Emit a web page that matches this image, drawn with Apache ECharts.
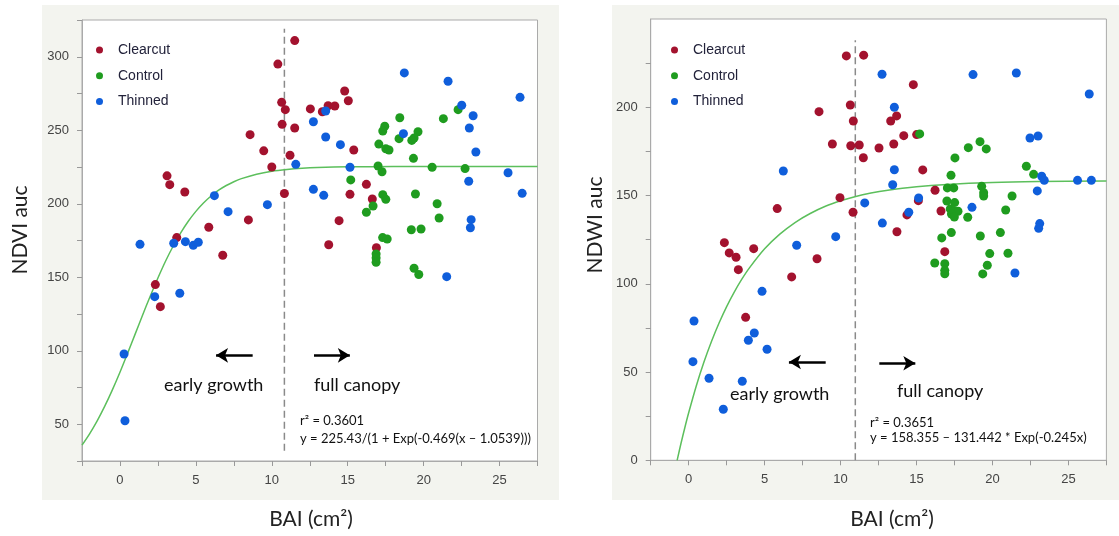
<!DOCTYPE html>
<html>
<head>
<meta charset="utf-8">
<script src="https://cdn.jsdelivr.net/npm/echarts@6/dist/echarts.min.js"></script>
<style>
html,body{margin:0;padding:0;background:#fff;}
#c{width:1119px;height:536px;}
</style>
</head>
<body>
<div id="c"></div>
<script>
// ---------- Data ----------
const seriesNames = ['Clearcut', 'Control', 'Thinned'];

const ndviClearcut = [
  [10.4,295],[10.65,269],[10.89,264],[10.68,254],[8.57,247],[9.47,236],[10.0,225],[11.2,233],
  [10.83,207],[3.10,219],[3.28,213],[4.27,208],[8.46,189],[5.85,184],[3.74,177],[6.77,165],
  [2.33,145],[2.66,130],[11.51,311],[12.54,264.5],[13.33,262.6],[13.71,266.7],[14.15,266.5],
  [14.8,276.7],[15.04,270.1],[11.51,251.5],[15.4,236.6],[16.23,213.2],[15.15,206.4],
  [16.62,203.2],[14.43,188.5],[13.75,172.1],[16.89,170.1]
];
const ndviControl = [
  [18.43,258.5],[21.3,257.9],[22.27,264],[17.44,252.7],[17.31,249.5],[19.63,249],[19.37,244.7],
  [19.22,243.1],[18.38,244.3],[17.05,240.6],[17.51,237.4],[17.72,236.6],[19.33,230.9],[17.0,225.7],
  [17.26,221.8],[20.56,224.8],[22.73,223.9],[15.2,216.2],[17.31,206.2],[17.51,203],[19.46,206.6],
  [20.89,200],[16.67,198.5],[16.23,194.2],[21.02,190.3],[19.19,182.3],[19.83,182.8],[17.3,177],
  [17.6,176],[16.87,165.8],[16.87,163.1],[16.87,160.2],[19.37,156.1],[19.68,151.9]
];
const ndviThinned = [
  [1.32,172.4],[3.54,173.1],[4.31,174.2],[4.83,171.7],[5.16,173.8],[2.29,136.8],[3.94,139.1],
  [0.27,97.8],[0.33,52.4],[6.22,205.5],[7.12,194.6],[9.71,199.4],[18.73,289],[21.61,283.3],
  [22.51,267],[23.26,259.9],[23.01,251.5],[23.44,235.2],[12.74,255.8],[13.55,245.4],[14.52,240.2],
  [18.67,247.7],[11.58,226.8],[15.15,224.8],[22.97,215.3],[12.74,209.8],[13.42,205.7],[23.13,189.2],
  [23.08,183.7],[25.56,221.1],[26.35,272.4],[26.49,207.1],[13.55,263.1],[21.52,150.4]
];
// fitted curve, as drawn (y = 225.43/(1 + Exp(-0.469(x - 1.0539))))
const ndviFit = [
  [-2.5,35.8],[-2,43.5],[-1.5,52.3],[-1,62.3],[-0.5,73.4],[0,85.4],[0.5,98.2],[1,111.3],
  [1.5,124.5],[2,137.3],[2.5,149.5],[3,160.9],[3.5,171.1],[4,180.2],[4.5,188.1],[5,194.8],
  [5.5,200.5],[6,205.3],[6.5,209.2],[7,212.4],[7.5,215.0],[8,217.1],[9,220.1],[10,222.1],
  [11,223.3],[12,224.1],[13,224.6],[15,225.1],[18,225.3],[22,225.4],[27.5,225.4]
];
const ndviDivider = [[10.83,32],[10.83,319]];

const ndwiClearcut = [
  [10.38,229.1],[10.64,201.3],[10.84,192.2],[8.58,197.5],[9.46,179.2],[10.67,178.2],[9.96,148.8],
  [10.82,140.5],[5.83,142.6],[11.52,229.5],[14.79,212.8],[13.69,195.1],[13.30,192.2],[11.23,178.6],
  [12.53,176.9],[13.5,179.2],[14.16,183.9],[15.01,184.5],[11.5,171.4],[15.41,164.5],[16.22,153],
  [15.12,147.1],[16.61,141.2],[14.37,139],[13.71,129.5],[16.86,118.2],[2.35,123.3],[2.67,117.5],
  [3.12,115],[3.27,108],[4.28,119.9],[8.45,114.2],[6.78,103.9],[3.75,81]
];
const ndwiControl = [
  [15.21,184.9],[19.18,180.5],[18.41,177.1],[19.59,176.4],[17.53,171.3],[22.23,166.6],[22.71,162.0],
  [17.27,161.5],[17.03,154.3],[17.45,154.3],[19.29,155.2],[19.42,151.6],[19.42,149.7],[21.29,149.7],
  [17.0,146.9],[17.51,146.0],[17.22,142.4],[17.45,141.2],[17.73,141.1],[17.3,139.5],[17.49,137.8],
  [20.87,141.8],[18.37,137.7],[17.29,129.0],[20.52,129.0],[16.66,126.0],[19.2,127.1],[19.82,117.1],
  [21.02,117.3],[16.2,111.8],[16.86,111.4],[16.86,107.6],[16.86,105.7],[19.66,110.5],[19.36,105.6]
];
const ndwiThinned = [
  [6.23,163.9],[9.68,126.7],[12.73,218.7],[18.72,218.5],[21.57,219.4],[13.54,200],[22.47,182.6],
  [23.0,183.7],[13.54,164.6],[13.43,156.1],[23.24,160.9],[23.41,158.6],[11.59,145.8],[15.14,148.6],
  [22.95,152.6],[14.49,140.5],[18.65,143.3],[12.75,134.4],[23.11,134.1],[23.04,131.4],[25.6,158.6],
  [26.51,158.6],[26.37,207.5],[21.48,106.1],[7.11,121.8],[4.83,95.7],[0.35,78.9],[4.32,72.1],
  [3.93,68],[5.16,62.9],[0.28,55.9],[1.34,46.5],[3.53,44.8],[2.28,28.9]
];
// fitted curve, as drawn (y = 158.355 - 131.442 * Exp(-0.245x))
const ndwiFit = [
  [-0.76,0],[-0.5,9.8],[-0.25,18.6],[0,26.9],[0.5,42.1],[1,55.5],[1.5,67.3],[2,77.8],[2.5,87.1],
  [3,95.3],[3.5,102.6],[4,109.0],[5,119.8],[6,128.1],[7,134.7],[8,139.8],[9,143.9],[10,147.0],
  [11,149.5],[12,151.4],[13,152.9],[15,155.0],[17,156.3],[20,157.4],[23,157.9],[27.5,158.2]
];
const ndwiDivider = [[10.97,0],[10.97,238]];

// arrows (data coordinates): [from, to]
const ndviArrows = [[[8.74,96.9],[6.33,96.9]],[[12.78,96.9],[15.14,96.9]]];
const ndwiArrows = [[[9.02,55.7],[6.60,55.7]],[[12.55,55.0],[14.92,55.0]]];

// ---------- Styling ----------
const COLORS = {Clearcut:'#a3122e', Control:'#1f9c1f', Thinned:'#0f5edb'};
const tickFont = 'Liberation Sans, Arial, sans-serif';
const noteFont = 'Lato, "Open Sans", sans-serif';

function xAxisDef(gi){
  return {
    gridIndex: gi, type:'value', min:-2.5, max:27.5, interval:2.5,
    axisLine:{show:true, onZero:false, lineStyle:{color:'#aaa', width:1}},
    axisTick:{show:true, length:5, lineStyle:{color:'#999'}},
    splitLine:{show:false},
    axisLabel:{fontFamily:tickFont, fontSize:13, color:'#444', margin:13,
      formatter:v => (Math.abs(v % 5) < 1e-9 ? String(v) : '')}
  };
}
function yAxisDef(gi, min, max){
  return {
    gridIndex: gi, type:'value', min:min, max:max, interval:25,
    axisLine:{show:true, onZero:false, lineStyle:{color:'#aaa', width:1}},
    axisTick:{show:true, length:5, lineStyle:{color:'#999'}},
    splitLine:{show:false},
    axisLabel:{fontFamily:tickFont, fontSize:13, color:'#444', margin:13,
      showMaxLabel: max % 50 !== 0 ? true : false,
      formatter:v => (v % 50 === 0 ? String(v) : '')}
  };
}
function scatter(name, data, gi){
  return {name, type:'scatter', xAxisIndex:gi, yAxisIndex:gi, data,
    symbolSize:9, itemStyle:{color:COLORS[name], opacity:1}, silent:true, z:3};
}
function arrowsMark(list){
  return {
    silent:true, symbol:['none','arrow'], symbolSize:[11,12],
    label:{show:false},
    lineStyle:{color:'#000', width:2.6, type:'solid'},
    emphasis:{disabled:true},
    data: list.map(a => [{coord:a[0]},{coord:a[1]}])
  };
}
function panelSeries(gi, cc, co, th, fit, divider, arrows){
  return [
    {name:'fit', type:'line', xAxisIndex:gi, yAxisIndex:gi, data:fit, smooth:0.3,
      showSymbol:false, lineStyle:{color:'#5cbf5c', width:1.5}, silent:true, z:2},
    {name:'divider', type:'line', xAxisIndex:gi, yAxisIndex:gi, data:divider, showSymbol:false,
      lineStyle:{color:'#8a8a8a', width:1.5, type:[7,4]}, silent:true, z:1,
      markLine: arrowsMark(arrows)},
    scatter('Clearcut', cc, gi),
    scatter('Control', co, gi),
    scatter('Thinned', th, gi)
  ];
}
function legendDef(left){
  return {
    data: seriesNames, orient:'vertical', left:left, top:38,
    icon:'circle', itemWidth:27, itemHeight:7, itemGap:11.7, selectedMode:false,
    textStyle:{fontFamily:tickFont, fontSize:14, color:'#22223a', lineHeight:14}
  };
}
function txt(x, y, s, size){
  return {type:'text', x, y, silent:true, z:10,
    style:{text:s, fontFamily:noteFont, fontSize:size, fill:'#111', textVerticalAlign:'middle'}};
}
function title(x, y, s, rot){
  return {type:'text', x, y, rotation:rot||0, silent:true, z:10,
    style:{text:s, fontFamily:noteFont, fontSize:21, fill:'#222', textAlign:'center', textVerticalAlign:'middle'}};
}

const chart = echarts.init(document.getElementById('c'), null, {renderer:'canvas'});
chart.setOption({
  backgroundColor:'#ffffff',
  animation:false,
  grid:[
    {left:82, top:20, width:455.5, height:441, show:true, backgroundColor:'#fff', borderColor:'#aaa', borderWidth:1},
    {left:650.7, top:19, width:455.7, height:441.3, show:true, backgroundColor:'#fff', borderColor:'#aaa', borderWidth:1}
  ],
  xAxis:[xAxisDef(0), xAxisDef(1)],
  yAxis:[yAxisDef(0, 25, 325), yAxisDef(1, 0, 250)],
  legend:[legendDef(91), legendDef(666)],
  series:[].concat(
    panelSeries(0, ndviClearcut, ndviControl, ndviThinned, ndviFit, ndviDivider, ndviArrows),
    panelSeries(1, ndwiClearcut, ndwiControl, ndwiThinned, ndwiFit, ndwiDivider, ndwiArrows)
  ),
  graphic:[
    {type:'rect', shape:{x:42, y:5, width:517, height:495}, style:{fill:'#f3f4ef'}, z:-10, silent:true},
    {type:'rect', shape:{x:612, y:5, width:507, height:495}, style:{fill:'#f3f4ef'}, z:-10, silent:true},
    // axis titles
    title(311, 519, 'BAI (cm²)'),
    title(892, 519, 'BAI (cm²)'),
    title(20, 230, 'NDVI auc', Math.PI/2),
    title(595, 225, 'NDWI auc', Math.PI/2),
    // annotations left
    txt(164, 385, 'early growth', 18),
    txt(314, 385, 'full canopy', 18),
    txt(300, 421, 'r² = 0.3601', 13),
    txt(300, 439, 'y = 225.43/(1 + Exp(-0.469(x – 1.0539)))', 13),
    // annotations right
    txt(730, 394, 'early growth', 18),
    txt(897, 391, 'full canopy', 18),
    txt(870, 423, 'r² = 0.3651', 13),
    txt(870, 438, 'y = 158.355 – 131.442 * Exp(-0.245x)', 13)
  ]
});
</script>
</body>
</html>
